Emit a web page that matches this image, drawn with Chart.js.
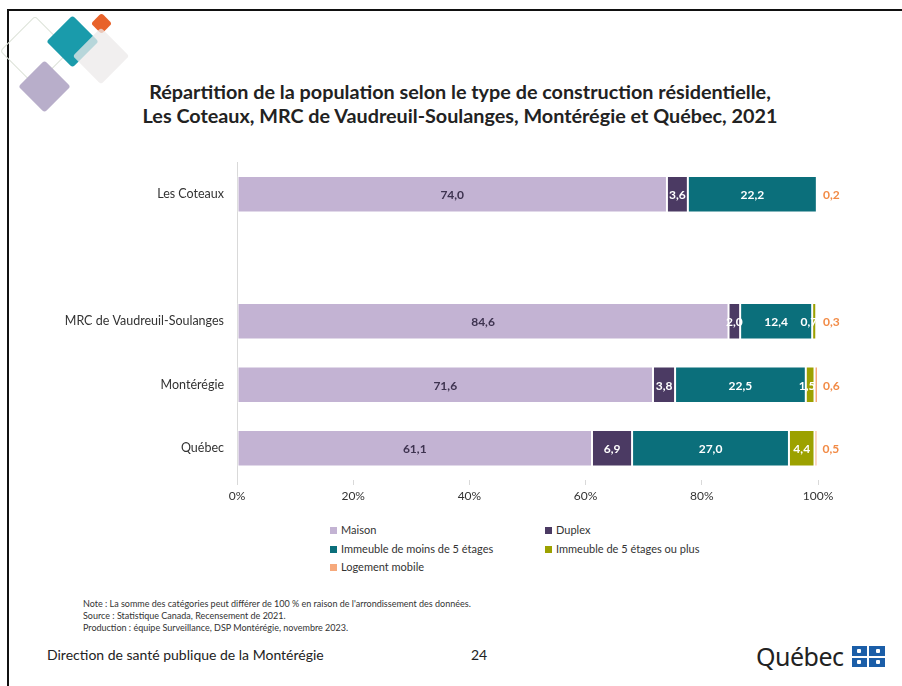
<!DOCTYPE html>
<html lang="fr">
<head>
<meta charset="utf-8">
<script src="https://cdn.jsdelivr.net/npm/chart.js@4"></script>
<style>
  html, body { margin: 0; padding: 0; background: #fff; }
  body { width: 902px; height: 686px; position: relative; overflow: hidden; font-family: Lato, "Noto Sans", sans-serif; color: #333; }
  .frameTop { position: absolute; left: 7px; top: 9px; width: 895px; height: 2px; background: #111; }
  .frameLeft { position: absolute; left: 7px; top: 9px; width: 2px; height: 677px; background: #111; }
  .dia { position: absolute; transform: rotate(45deg); border-radius: 3px; }
  #titre { position: absolute; left: 0; top: 79px; width: 920px; text-align: center; font-weight: bold; font-size: 19.8px; line-height: 24px; color: #222; }
  #zone { position: absolute; left: 0; top: 150px; width: 902px; height: 360px; }
  #legende { position: absolute; left: 330px; top: 522px; width: 500px; font-size: 11px; color: #333; }
  .item { position: absolute; white-space: nowrap; line-height: 16px; }
  .item span.carre { display: inline-block; width: 7px; height: 7px; margin-right: 4px; vertical-align: 0px; }
  #notes { position: absolute; left: 83px; top: 598px; font-size: 9px; line-height: 12px; color: #333; }
  #pied { position: absolute; left: 47px; top: 646px; font-size: 14px; color: #222; }
  #page { position: absolute; left: 471px; top: 646px; font-size: 14px; color: #222; }
  #quebec { position: absolute; left: 756px; top: 639px; font-size: 25px; color: #222; font-family: "Noto Sans", sans-serif; letter-spacing: -0.5px; }
  #drapeau { position: absolute; left: 852px; top: 646px; width: 33px; height: 21px; background: #1b5ea8; }
  #drapeau .h { position: absolute; left: 0; top: 10px; width: 33px; height: 2px; background: #fff; }
  #drapeau .v { position: absolute; left: 15px; top: 0; width: 2px; height: 21px; background: #fff; }
  #drapeau .f { position: absolute; width: 4px; height: 4px; background: #fff; border-radius: 1px; }
</style>
</head>
<body>
<div class="frameTop"></div>
<div class="frameLeft"></div>

<div class="dia" style="left:10px;top:26px;width:48px;height:48px;border:1px solid #dde3d9;border-radius:4px;"></div>
<div class="dia" style="left:54px;top:23px;width:37px;height:37px;background:#1a9bab;"></div>
<div class="dia" style="left:94px;top:16px;width:15px;height:15px;background:#e8622a;"></div>
<div class="dia" style="left:81px;top:36px;width:40px;height:40px;background:rgba(236,234,234,0.75);"></div>
<div class="dia" style="left:26px;top:68px;width:37px;height:37px;background:#b8aeca;"></div>

<div id="titre">Répartition de la population selon le type de construction résidentielle,<br>Les Coteaux, MRC de Vaudreuil-Soulanges, Montérégie et Québec, 2021</div>

<div id="zone"><canvas id="graphique"></canvas></div>

<div id="legende"></div>

<div id="notes">Note : La somme des catégories peut différer de 100 % en raison de l'arrondissement des données.<br>Source : Statistique Canada, Recensement de 2021.<br>Production : équipe Surveillance, DSP Montérégie, novembre 2023.</div>

<div id="pied">Direction de santé publique de la Montérégie</div>
<div id="page">24</div>
<div id="quebec">Québec</div>
<div id="drapeau"><div class="h"></div><div class="v"></div>
  <div class="f" style="left:5px;top:3px"></div><div class="f" style="left:24px;top:3px"></div>
  <div class="f" style="left:5px;top:14px"></div><div class="f" style="left:24px;top:14px"></div>
</div>

<script>
const regions = ['Les Coteaux', '', 'MRC de Vaudreuil-Soulanges', 'Montérégie', 'Québec'];
const typesLogement = ['Maison', 'Duplex', 'Immeuble de moins de 5 étages', 'Immeuble de 5 étages ou plus', 'Logement mobile'];
const maison = [74.0, null, 84.6, 71.6, 61.1];
const duplex = [3.6, null, 2.0, 3.8, 6.9];
const immeubleMoins5 = [22.2, null, 12.4, 22.5, 27.0];
const immeuble5Plus = [0, null, 0.7, 1.5, 4.4];
const logementMobile = [0.2, null, 0.3, 0.6, 0.5];
const ticksX = [0, 20, 40, 60, 80, 100];

const couleurs = ['#c3b3d3', '#4b3a63', '#0b6f7b', '#9ca100', '#f6a97c'];
const couleursTexte = ['#3e3350', '#ffffff', '#ffffff', '#ffffff', '#f28b46'];
const series = [maison, duplex, immeubleMoins5, immeuble5Plus, logementMobile];

function formater(v) {
    return v.toFixed(1).replace('.', ',');
}

const etiquettes = {
    id: 'etiquettes',
    afterDatasetsDraw(chart) {
        const ctx = chart.ctx;
        ctx.save();
        ctx.font = 'bold 12px Lato, "Noto Sans", sans-serif';
        ctx.textBaseline = 'middle';
        chart.data.datasets.forEach((ds, i) => {
            const meta = chart.getDatasetMeta(i);
            meta.data.forEach((bar, j) => {
                const v = ds.data[j];
                if (v === null || v === 0) return;
                const p = bar.getProps(['x', 'y', 'base'], true);
                ctx.fillStyle = couleursTexte[i];
                if (i === series.length - 1) {
                    ctx.textAlign = 'left';
                    ctx.fillText(formater(v), p.x + 5, p.y + 1);
                } else if (p.x - p.base < 10) {
                    // segment trop étroit : étiquette collée à la fin du segment
                    ctx.textAlign = 'right';
                    ctx.fillText(formater(v), p.x + 1, p.y + 1);
                } else {
                    ctx.textAlign = 'center';
                    ctx.fillText(formater(v), (p.x + p.base) / 2, p.y + 1);
                }
            });
        });
        ctx.restore();
    }
};

const ctx = document.getElementById('graphique').getContext('2d');
new Chart(ctx, {
    type: 'bar',
    data: {
        labels: regions,
        datasets: series.map((d, i) => ({
            label: typesLogement[i],
            data: d,
            backgroundColor: couleurs[i],
            borderColor: 'rgba(255,255,255,0.55)',
            borderWidth: 1,
            borderSkipped: false,
            barPercentage: 0.575,
            categoryPercentage: 1
        }))
    },
    options: {
        indexAxis: 'y',
        responsive: true,
        maintainAspectRatio: false,
        animation: false,
        layout: { padding: { top: 10, right: 84, left: 0, bottom: 0 } },
        plugins: {
            legend: { display: false },
            tooltip: { enabled: false }
        },
        scales: {
            x: {
                stacked: true,
                min: 0,
                max: 100,
                afterBuildTicks: s => { s.ticks = ticksX.map(v => ({ value: v })); },
                afterFit: s => { s.height = 30; },
                grid: { drawOnChartArea: false, drawTicks: true, tickLength: 5, color: '#d9d9d9' },
                border: { display: false },
                ticks: {
                    padding: 4,
                    color: '#333',
                    font: { family: 'Lato, "Noto Sans", sans-serif', size: 12 },
                    callback: v => v + '%'
                }
            },
            y: {
                stacked: true,
                afterFit: s => { s.width = 237; },
                grid: { display: false },
                border: { display: true, color: '#d9d9d9', width: 1 },
                ticks: {
                    padding: 5,
                    color: '#333',
                    font: { family: 'Lato, "Noto Sans", sans-serif', size: 12.5 }
                }
            }
        }
    },
    plugins: [etiquettes]
});

// légende en deux colonnes, construite à partir des séries
const legende = document.getElementById('legende');
typesLogement.forEach((nom, i) => {
    const div = document.createElement('div');
    div.className = 'item';
    div.style.left = (i % 2 === 0 ? 0 : 215) + 'px';
    div.style.top = (Math.floor(i / 2) * 18.5) + 'px';
    div.innerHTML = '<span class="carre" style="background:' + couleurs[i] + '"></span>' + nom;
    legende.appendChild(div);
});
</script>
</body>
</html>
